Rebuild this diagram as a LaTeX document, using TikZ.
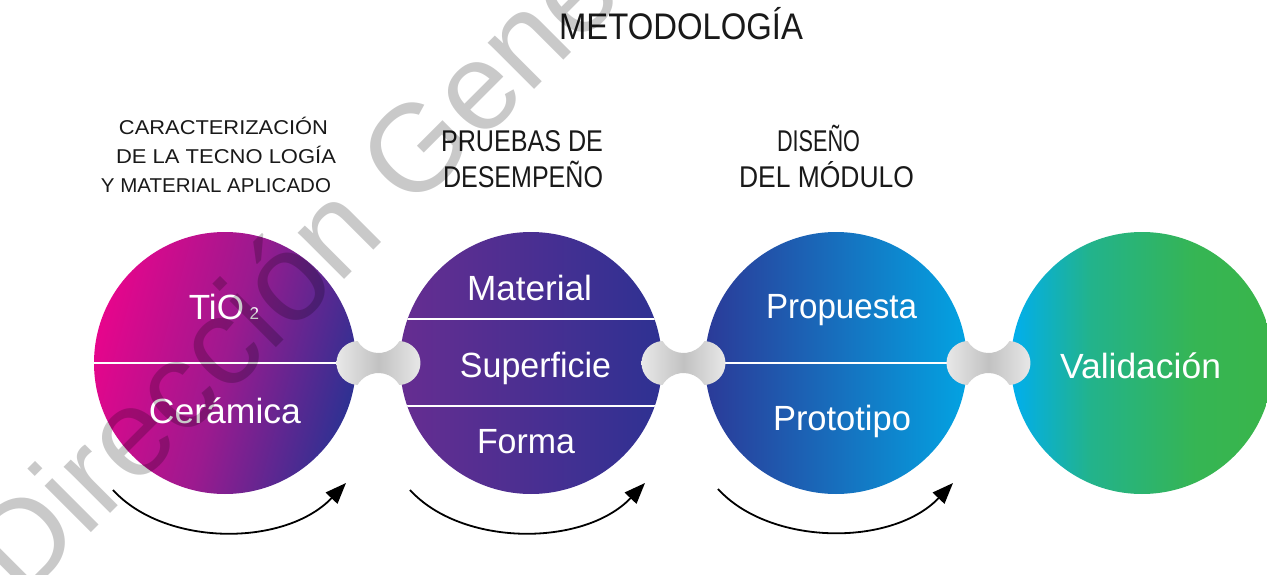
\documentclass[tikz,border=0pt]{standalone}
\usepackage{fontspec}
\setmainfont{Liberation Sans}
\usepackage{graphicx}
\usetikzlibrary{arrows.meta,calc}
\definecolor{cmag}{HTML}{E6058C}
\definecolor{cmagmid}{HTML}{9C1A8F}
\definecolor{cnavy}{HTML}{2E3192}
\definecolor{cpurp}{HTML}{662D91}
\definecolor{cblue}{HTML}{2B3A98}
\definecolor{ccyan}{HTML}{03A3E2}
\definecolor{ccyan2}{HTML}{00AEEF}
\definecolor{cteal}{HTML}{22B38C}
\definecolor{cgreen}{HTML}{39B54A}
\pgfdeclarehorizontalshading{shA}{100bp}{color(0bp)=(cmag); color(25bp)=(cmag); color(50bp)=(cmagmid); color(75bp)=(cnavy); color(100bp)=(cnavy)}
\pgfdeclarehorizontalshading{shB}{100bp}{color(0bp)=(cpurp); color(25bp)=(cpurp); color(75bp)=(cnavy); color(100bp)=(cnavy)}
\pgfdeclarehorizontalshading{shC}{100bp}{color(0bp)=(cblue); color(25bp)=(cblue); color(75bp)=(ccyan); color(100bp)=(ccyan)}
\pgfdeclarehorizontalshading{shD}{100bp}{color(0bp)=(ccyan2); color(25bp)=(ccyan2); color(40bp)=(cteal); color(60bp)=(cgreen!85!cteal); color(75bp)=(cgreen); color(100bp)=(cgreen)}
\pgfdeclarehorizontalshading{shBone}{100bp}{color(0bp)=(black!9); color(25bp)=(black!9); color(50bp)=(black!24); color(75bp)=(black!9); color(100bp)=(black!9)}
\newcommand\fitw[2]{\resizebox{#1pt}{\height}{#2}}
\tikzset{
  disc/.style={circle, minimum size=262pt, inner sep=0pt, shade},
  sep/.style={white, line width=1.6pt},
  intext/.style={text=white, anchor=base, inner sep=0pt, font=\fontsize{35}{35}\selectfont},
  headtext/.style={text=black!90, anchor=base, inner sep=0pt},
  loop/.style={line width=1.8pt, -{Triangle[length=21pt, width=16pt]}},
  bonefill/.style={shade, shading=shBone}
}
% dog-bone joint: two lobes (r=22) at J-+20, waist carved by circles (r=24.3) at J-+(0,34.3)
\newcommand\bone[1]{%
  \path[bonefill] ($(#1)+(-42,0)$)
    arc[start angle=180, end angle=92.5, radius=22pt]
    arc[start angle=210.5, end angle=329.5, radius=24.3pt]
    arc[start angle=87.5, end angle=-87.5, radius=22pt]
    arc[start angle=30.5, end angle=149.5, radius=24.3pt]
    arc[start angle=-92.5, end angle=-180, radius=22pt] -- cycle;}
\begin{document}
\begin{tikzpicture}[x=1pt,y=-1pt]
\useasboundingbox (0,0) rectangle (1267,575);
\clip (0,0) rectangle (1267,575);
% title and headings
\node[headtext, font=\fontsize{37}{37}\selectfont] (title) at (681,40) {\fitw{244}{METODOLOGÍA}};
\node[headtext, font=\fontsize{20}{20}\selectfont] (h1a) at (223.5,135) {\fitw{209}{CARACTERIZACIÓN}};
\node[headtext, font=\fontsize{20}{20}\selectfont] (h1b) at (226,164) {\fitw{220}{DE LA TECNO LOGÍA}};
\node[headtext, font=\fontsize{20}{20}\selectfont] (h1c) at (216,193) {\fitw{230}{Y MATERIAL APLICADO}};
\node[headtext, font=\fontsize{30}{30}\selectfont] (h2a) at (522,152) {\fitw{162}{PRUEBAS DE}};
\node[headtext, font=\fontsize{30}{30}\selectfont] (h2b) at (523,187) {\fitw{160}{DESEMPEÑO}};
\node[headtext, font=\fontsize{30}{30}\selectfont] (h3a) at (818.5,152) {\fitw{83}{DISEÑO}};
\node[headtext, font=\fontsize{30}{30}\selectfont] (h3b) at (826.5,187) {\fitw{175}{DEL MÓDULO}};
% discs
\node[disc, shading=shA, shading angle=-15] (c1) at (225,363) {};
\node[disc, shading=shB] (c2) at (531,363) {};
\node[disc, shading=shC] (c3) at (836,363) {};
\node[disc, shading=shD] (c4) at (1142,363) {};
% separators
\begin{scope}
  \clip (c1.center) circle (131pt);
  \draw[sep] (c1.west) -- (c1.east);
\end{scope}
\begin{scope}
  \clip (c2.center) circle (131pt);
  \draw[sep] ($(c2.west)+(0,-44)$) -- ($(c2.east)+(0,-44)$);
  \draw[sep] ($(c2.west)+(0,43)$) -- ($(c2.east)+(0,43)$);
\end{scope}
\begin{scope}
  \clip (c3.center) circle (131pt);
  \draw[sep] (c3.west) -- (c3.east);
\end{scope}
% texts in discs
\node[intext] (t1) at (224,319) {TiO{\fontsize{17}{17}\selectfont\,\,2}};
\node[intext] (t2) at (225,423) {\fitw{152}{Cerámica}};
\node[intext] (t3) at (529.5,300) {\fitw{125}{Material}};
\node[intext] (t4) at (535.5,377) {\fitw{151}{Superficie}};
\node[intext] (t5) at (526,453) {\fitw{98}{Forma}};
\node[intext] (t6) at (841.5,318) {\fitw{151}{Propuesta}};
\node[intext] (t7) at (842,430) {\fitw{138}{Prototipo}};
\node[intext] (t8) at (1140.5,378) {\fitw{161}{Validación}};
% joints
\coordinate (j1) at (378.5,363);
\coordinate (j2) at (683.5,363);
\coordinate (j3) at (988.5,363);
\bone{j1}
\bone{j2}
\bone{j3}
% loop arrows
\coordinate (a1s) at (113,490); \coordinate (a1e) at (346,483);
\coordinate (a2s) at (410,490); \coordinate (a2e) at (645,483);
\coordinate (a3s) at (718,489); \coordinate (a3e) at (953,483);
\draw[loop] (a1s) .. controls ($(a1s)+(52,57)$) and ($(a1e)+(-61,64)$) .. (a1e);
\draw[loop] (a2s) .. controls ($(a2s)+(52,57)$) and ($(a2e)+(-61,64)$) .. (a2e);
\draw[loop] (a3s) .. controls ($(a3s)+(52,57)$) and ($(a3e)+(-61,64)$) .. (a3e);
% watermark
\node[anchor=base west, rotate=45, inner sep=0pt, text=black, text opacity=0.21, font=\fontsize{124}{124}\selectfont] (wm) at (22,602) {Dirección General};
\end{tikzpicture}
\end{document}
